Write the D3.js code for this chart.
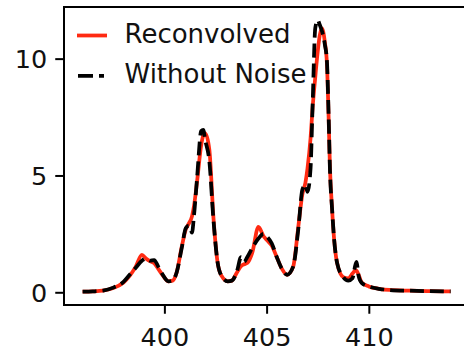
<!DOCTYPE html>
<html>
<head>
<meta charset="utf-8">
<script src="https://cdn.jsdelivr.net/npm/d3@7"></script>
<style>
  html, body { margin: 0; padding: 0; background: #fff; }
  svg { display: block; font-family: "DejaVu Sans", sans-serif; }
</style>
</head>
<body>
<svg id="chart" width="464" height="352"></svg>
<script>
// Wavelength grid (nm)
const wavelength = [
  396.0, 396.5, 397.0, 397.5, 398.0, 398.3, 398.6, 398.9, 399.1, 399.3,
  399.5, 399.7, 399.9, 400.2, 400.4, 400.6, 400.85, 401.05, 401.2, 401.35,
  401.45, 401.6, 401.8, 401.9, 402.0, 402.2, 402.4, 402.6, 402.8, 403.1,
  403.3, 403.55, 403.75, 403.9, 404.05, 404.3, 404.6, 404.85, 405.05, 405.25,
  405.5, 405.75, 406.0, 406.3, 406.55, 406.75, 406.9, 407.0, 407.15, 407.25,
  407.38, 407.5, 407.6, 407.7, 407.85, 407.95, 408.03, 408.1, 408.2, 408.3,
  408.45, 408.75, 409.0, 409.2, 409.35, 409.4, 409.5, 409.65, 410.0, 410.5,
  411.0, 412.0, 413.0, 414.0
];

// Reconvolved spectrum
const reconvolved = [
  0.03, 0.04, 0.07, 0.18, 0.42, 0.70, 1.10, 1.60, 1.45, 1.33,
  1.25, 1.00, 0.75, 0.47, 0.50, 0.85, 1.95, 2.70, 2.95, 3.25,
  3.70, 4.75, 6.30, 6.70, 6.80, 6.10, 3.20, 1.30, 0.70, 0.47,
  0.50, 0.85, 1.12, 1.20, 1.25, 1.70, 2.80, 2.40, 2.20, 2.00,
  1.50, 1.00, 0.75, 1.10, 2.80, 4.20, 4.70, 5.30, 6.60, 7.90,
  9.20, 10.30, 11.00, 11.30, 10.70, 9.80, 7.60, 5.30, 3.60, 2.30,
  1.25, 0.65, 0.60, 0.80, 0.95, 0.92, 0.75, 0.42, 0.25, 0.15,
  0.10, 0.07, 0.05, 0.04
];

// Noise-free spectrum
const withoutNoise = [
  0.03, 0.04, 0.07, 0.20, 0.45, 0.75, 1.05, 1.35, 1.45, 1.35,
  1.38, 1.10, 0.78, 0.47, 0.50, 0.85, 1.90, 2.75, 2.85, 2.55,
  3.30, 4.90, 6.90, 6.95, 6.50, 5.60, 3.10, 1.30, 0.70, 0.47,
  0.50, 0.90, 1.50, 1.30, 1.50, 1.90, 2.30, 2.50, 2.35, 2.10,
  1.50, 1.00, 0.75, 1.10, 2.70, 4.40, 4.60, 4.30, 5.30, 8.00,
  11.30, 11.65, 11.45, 11.20, 10.60, 9.90, 7.70, 5.20, 3.60, 2.30,
  1.25, 0.65, 0.50, 0.60, 1.20, 1.30, 0.70, 0.40, 0.25, 0.15,
  0.10, 0.07, 0.05, 0.04
];

const xTicks = [400, 405, 410];
const yTicks = [0, 5, 10];
const seriesNames = ["Reconvolved", "Without Noise"];

const svg = d3.select("#chart");
const plotLeft = 64, plotRight = 469, plotTop = 7, plotBottom = 305;

const x = d3.scaleLinear().domain([395.09, 414.9]).range([plotLeft, plotRight]);
const y = d3.scaleLinear().domain([-0.544, 12.21]).range([plotBottom, plotTop]);

const red = "#ff2a12";
const lw = 3.75;
const tickFont = 25.5;
const legendFont = 26;

const line = (vals) => d3.line()
  .x((d, i) => x(wavelength[i]))
  .y(d => y(d))
  .curve(d3.curveMonotoneX)(vals);

const plot = svg.append("g");
plot.append("path")
  .attr("d", line(reconvolved))
  .attr("fill", "none").attr("stroke", red).attr("stroke-width", lw)
  .attr("stroke-linejoin", "round");
plot.append("path")
  .attr("d", line(withoutNoise))
  .attr("fill", "none").attr("stroke", "#000").attr("stroke-width", lw)
  .attr("stroke-dasharray", "13.9,6").attr("stroke-linejoin", "round");

// Spines
const spines = svg.append("g").attr("stroke", "#000").attr("stroke-width", 2).attr("fill", "none");
spines.append("line").attr("x1", plotLeft).attr("x2", plotLeft).attr("y1", plotTop - 1).attr("y2", plotBottom + 1);
spines.append("line").attr("x1", plotLeft - 1).attr("x2", plotRight).attr("y1", plotTop).attr("y2", plotTop);
spines.append("line").attr("x1", plotLeft - 1).attr("x2", plotRight).attr("y1", plotBottom).attr("y2", plotBottom);

// Axes
const xAxis = d3.axisBottom(x).tickValues(xTicks).tickSize(8.75).tickPadding(6).tickFormat(d3.format("d"));
const gx = svg.append("g").attr("transform", `translate(0,${plotBottom})`).call(xAxis);
gx.select(".domain").remove();
gx.selectAll(".tick line").attr("stroke", "#000").attr("stroke-width", 2);
gx.selectAll(".tick text").attr("font-size", tickFont).attr("fill", "#111")
  .attr("font-family", "DejaVu Sans").attr("dy", null).attr("y", 41);

const yAxis = d3.axisLeft(y).tickValues(yTicks).tickSize(8.75).tickPadding(8).tickFormat(d3.format("d"));
const gy = svg.append("g").attr("transform", `translate(${plotLeft},0)`).call(yAxis);
gy.select(".domain").remove();
gy.selectAll(".tick line").attr("stroke", "#000").attr("stroke-width", 2);
gy.selectAll(".tick text").attr("font-size", tickFont).attr("fill", "#111")
  .attr("font-family", "DejaVu Sans").attr("dy", "0.36em");

// Legend
const legend = svg.append("g");
legend.append("line").attr("x1", 77).attr("x2", 107).attr("y1", 35.5).attr("y2", 35.5)
  .attr("stroke", red).attr("stroke-width", lw);
legend.append("line").attr("x1", 78).attr("x2", 104).attr("y1", 75.8).attr("y2", 75.8)
  .attr("stroke", "#000").attr("stroke-width", lw).attr("stroke-dasharray", "15,6");
legend.selectAll("text").data(seriesNames).enter().append("text")
  .attr("x", 124.5).attr("y", (d, i) => 43 + i * 40)
  .attr("font-size", legendFont).attr("fill", "#111").text(d => d);
</script>
</body>
</html>
